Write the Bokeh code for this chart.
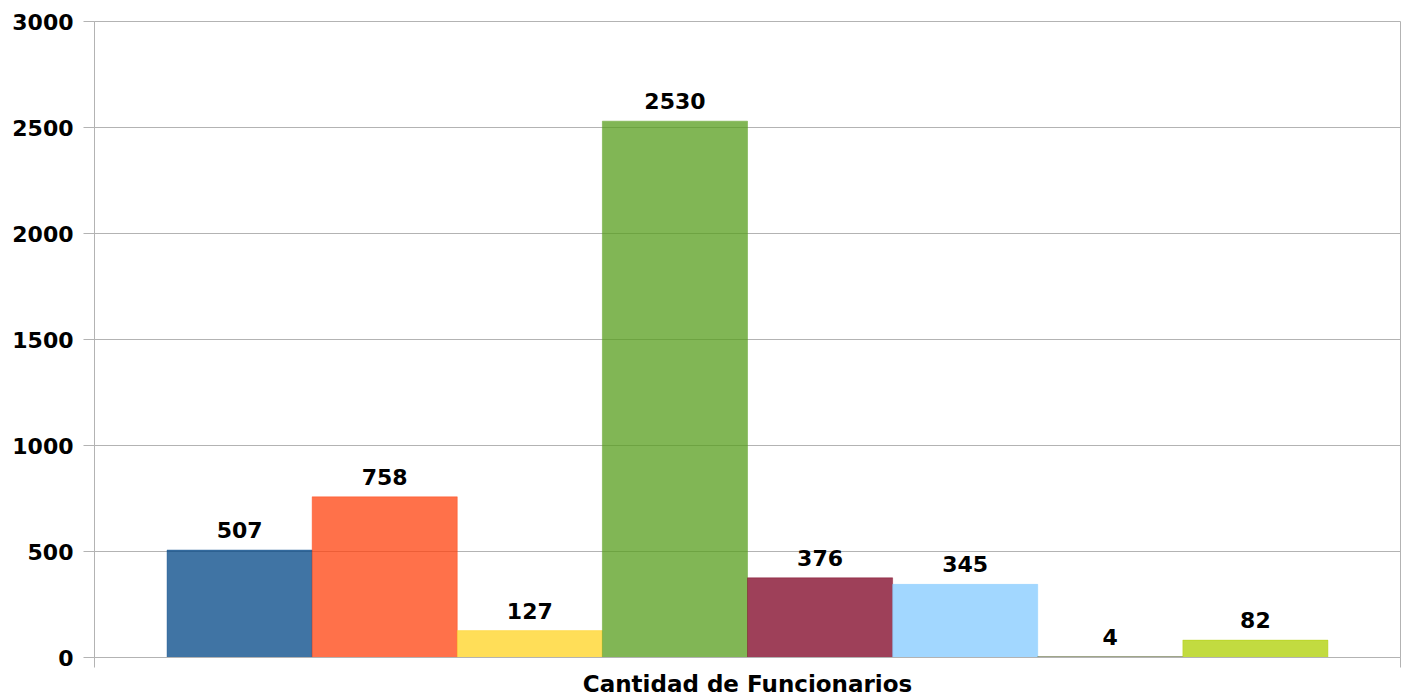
from bokeh.plotting import figure
from bokeh.models import Range1d, FixedTicker, LabelSet, ColumnDataSource
from bokeh.core.properties import value
from bokeh.embed import file_html
from bokeh.resources import INLINE

# ---- data ----
series = ["S1", "S2", "S3", "S4", "S5", "S6", "S7", "S8"]
values = [507, 758, 127, 2530, 376, 345, 4, 82]
colors = ["#004586", "#ff420e", "#ffd320", "#579d1c", "#7e0021", "#83caff", "#314004", "#aecf00"]
category_label = "Cantidad de Funcionarios"
y_ticks = [0, 500, 1000, 1500, 2000, 2500, 3000]

FONT = "DejaVu Sans"
GRAY = "#b3b3b3"

positions = list(range(len(values)))
src = ColumnDataSource(dict(x=positions, top=values, color=colors,
                            label=[str(v) for v in values]))

p = figure(width=1407, height=699, output_backend="svg", toolbar_location=None,
           x_range=Range1d(-1, len(values)), y_range=Range1d(0, 3000),
           min_border_left=94, min_border_right=7, min_border_top=21, min_border_bottom=42)
p.background_fill_color = "white"
p.border_fill_color = "white"
p.outline_line_color = GRAY

p.vbar(x="x", top="top", bottom=0, width=1.0, fill_color="color", fill_alpha=0.75,
       line_color="color", line_alpha=0.4, line_width=1, source=src)

p.add_layout(LabelSet(x="x", y="top", text="label", source=src, text_align="center",
                      text_baseline="alphabetic", y_offset=12,
                      text_font=value(FONT), text_font_style="bold", text_font_size="22px",
                      text_color="black"))

# y axis
p.yaxis.ticker = FixedTicker(ticks=y_ticks)
p.yaxis.axis_line_color = GRAY
p.yaxis.major_tick_line_color = GRAY
p.yaxis.major_tick_out = 11
p.yaxis.major_tick_in = 0
p.yaxis.minor_tick_line_color = None
p.yaxis.major_label_standoff = 10
p.yaxis.major_label_text_font = FONT
p.yaxis.major_label_text_font_style = "bold"
p.yaxis.major_label_text_font_size = "22px"
p.yaxis.major_label_text_color = "black"

# x axis: only boundary ticks, no tick labels, category name as axis label
p.xaxis.ticker = FixedTicker(ticks=[-1, len(values)])
p.xaxis.major_label_overrides = {-1: "", len(values): ""}
p.xaxis.major_label_text_color = None
p.xaxis.major_label_standoff = 0
p.xaxis.axis_line_color = GRAY
p.xaxis.major_tick_line_color = GRAY
p.xaxis.major_tick_out = 10
p.xaxis.major_tick_in = 0
p.xaxis.minor_tick_line_color = None
p.xaxis.axis_label = category_label
p.xaxis.axis_label_standoff = 3
p.xaxis.axis_label_text_font = FONT
p.xaxis.axis_label_text_font_style = "bold"
p.xaxis.axis_label_text_font_size = "23px"
p.xaxis.axis_label_text_color = "black"

p.ygrid.grid_line_color = GRAY
p.xgrid.visible = False

open("out.html", "w").write(file_html(p, INLINE))
